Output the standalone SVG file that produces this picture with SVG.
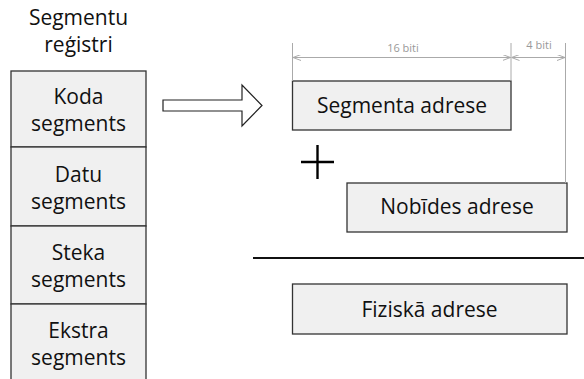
<svg xmlns="http://www.w3.org/2000/svg" width="584" height="379" viewBox="0 0 584 379">
<defs>
<marker id="dim" viewBox="0 0 8 6" refX="8" refY="3" markerWidth="8" markerHeight="6" orient="auto-start-reverse" markerUnits="userSpaceOnUse">
<path d="M0,0 L8,3 L0,6" fill="none" stroke="#aaa" stroke-width="1"/>
</marker>
</defs>
<style>
.box{fill:#f0f0f0;stroke:#333;stroke-width:1.3}
.t{font-family:"Open Sans","Noto Sans",sans-serif;font-size:21px;fill:#111;text-anchor:middle}
.d{font-family:"Open Sans","Noto Sans",sans-serif;font-size:11px;fill:#999;text-anchor:middle}
.dl{stroke:#aaa;stroke-width:1;fill:none}
</style>
<rect width="584" height="379" fill="#fff"/>
<g id="title">
<text class="t" x="78.5" y="25">Segmentu</text>
<text class="t" x="78.5" y="52">reģistri</text>
</g>
<g id="koda">
<rect class="box" x="11" y="71" width="135" height="76"/>
<text class="t" x="78.5" y="104">Koda</text>
<text class="t" x="78.5" y="131">segments</text>
</g>
<g id="datu">
<rect class="box" x="11" y="147" width="135" height="79"/>
<text class="t" x="78.5" y="182">Datu</text>
<text class="t" x="78.5" y="209">segments</text>
</g>
<g id="steka">
<rect class="box" x="11" y="226" width="135" height="78"/>
<text class="t" x="78.5" y="260">Steka</text>
<text class="t" x="78.5" y="287">segments</text>
</g>
<g id="ekstra">
<rect class="box" x="11" y="304" width="135" height="90"/>
<text class="t" x="78.5" y="338">Ekstra</text>
<text class="t" x="78.5" y="365">segments</text>
</g>
<g id="segmenta">
<rect class="box" x="292.5" y="81" width="218.5" height="49"/>
<text class="t" x="402" y="113">Segmenta adrese</text>
</g>
<g id="nobides">
<rect class="box" x="347" y="183" width="220" height="49"/>
<text class="t" x="457" y="214">Nobīdes adrese</text>
</g>
<g id="fiziska">
<rect class="box" x="292.5" y="284" width="274.5" height="50"/>
<text class="t" x="429.5" y="317">Fiziskā adrese</text>
</g>
<g id="connectors">
<path d="M163,100 H242 V85 L262,105.5 L242,126 V111 H163 Z" fill="#fff" stroke="#222" stroke-width="1.2"/>
<line x1="301" y1="162" x2="334" y2="162" stroke="#000" stroke-width="2.4"/>
<line x1="317.5" y1="145" x2="317.5" y2="179" stroke="#000" stroke-width="2.4"/>
<line x1="253" y1="258" x2="584" y2="258" stroke="#111" stroke-width="2"/>
<line class="dl" x1="292.5" y1="43" x2="292.5" y2="81"/>
<line class="dl" x1="511" y1="43" x2="511" y2="81"/>
<line class="dl" x1="565.5" y1="43" x2="565.5" y2="183"/>
<line class="dl" x1="293" y1="57.5" x2="510.5" y2="57.5" marker-start="url(#dim)" marker-end="url(#dim)"/>
<line class="dl" x1="511.5" y1="57.5" x2="565" y2="57.5" marker-start="url(#dim)" marker-end="url(#dim)"/>
<text class="d" x="403" y="52">16 biti</text>
<text class="d" x="539" y="49">4 biti</text>
</g>
</svg>
